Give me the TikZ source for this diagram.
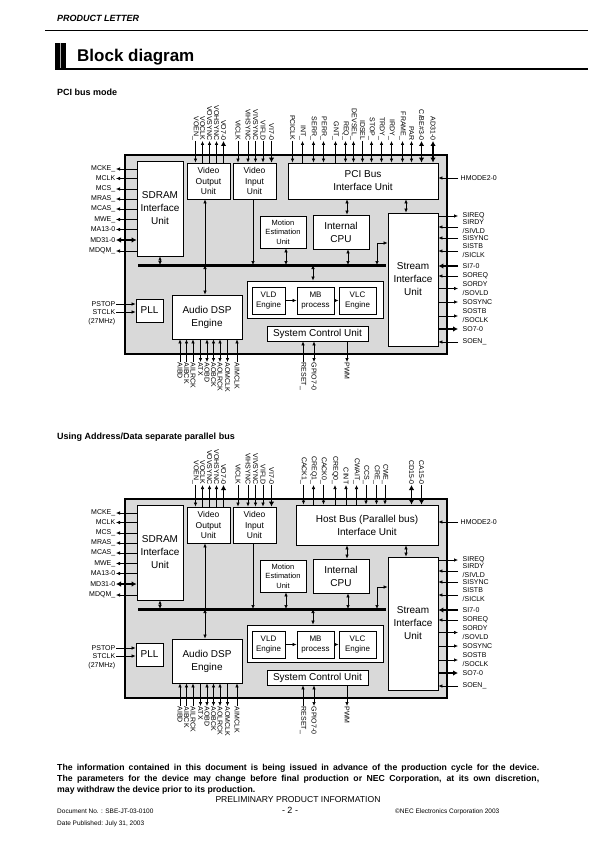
\documentclass[tikz,border=0pt]{standalone}
\usepackage{fontspec}
\setmainfont{Liberation Sans}
\usetikzlibrary{arrows.meta}
\definecolor{panel}{gray}{0.85}

\tikzset{
  unit/.style={draw, line width=0.8pt, fill=white, inner sep=0pt, align=center, font=\fontsize{10}{13}\selectfont},
  smallunit/.style={unit, font=\fontsize{8.5}{10.5}\selectfont},
  midunit/.style={unit, font=\fontsize{8}{10}\selectfont},
  tinyunit/.style={unit, font=\fontsize{7.5}{9.5}\selectfont},
  toplab/.style={rotate=-90, anchor=east, inner sep=0.5pt, font=\fontsize{7}{8}\selectfont},
  botlab/.style={rotate=-90, anchor=west, inner sep=0.5pt, font=\fontsize{7}{8}\selectfont},
  leftlab/.style={anchor=east, inner sep=0.5pt, font=\fontsize{7}{8}\selectfont},
  rightlab/.style={anchor=west, inner sep=0.5pt, align=left, font=\fontsize{7}{9}\selectfont},
  sigin/.style={line width=0.7pt, arrows={-Latex[length=4pt,width=3.6pt]}},
  sigout/.style={line width=0.7pt, arrows={Latex[length=4pt,width=3.6pt]-}},
  sigio/.style={line width=0.7pt, arrows={Latex[length=4pt,width=3.6pt]-Latex[length=4pt,width=3.6pt]}},
  busin/.style={line width=1.8pt, arrows={-Latex[length=5pt,width=5.5pt]}},
  busout/.style={line width=1.8pt, arrows={Latex[length=5pt,width=5.5pt]-}},
  busio/.style={line width=1.8pt, arrows={Latex[length=5pt,width=5.5pt]-Latex[length=5pt,width=5.5pt]}},
}

% pin label + wire:  name, position, text, wire style, unit
\newcommand{\topsig}[5]{%
  \node[toplab] (#1) at (#2,141) {#3};
  \draw[#4] (#1.east) -- (#1.east |- #5.north);}
\newcommand{\botsig}[5]{%
  \node[botlab] (#1) at (#2,362) {#3};
  \draw[#4] (#1.west) -- (#1.west |- #5.south);}
\newcommand{\leftsig}[5]{%
  \node[leftlab] (#1) at (116,#2) {#3};
  \draw[#4] (#1.east) -- (#5.west |- #1.east);}
\newcommand{\rightsig}[5]{%
  \node[rightlab] (#1) at (462,#2) {#3};
  \draw[#4] ([xshift=-4pt]#1.west) -- (#5.east |- #1.west);}

% everything both pictures share
\newcommand{\blockdiagram}[1]{%
  \draw[line width=2pt, fill=panel] (125,155) rectangle (447,354);
  \node[unit, minimum width=46pt, minimum height=95pt] (#1sdram) at (160,208.5) {SDRAM\\Interface\\Unit};
  \node[smallunit, minimum width=43pt, minimum height=36pt] (#1vout) at (208.5,181) {Video\\Output\\Unit};
  \node[smallunit, minimum width=43pt, minimum height=36pt] (#1vin) at (254.5,181) {Video\\Input\\Unit};
  \node[tinyunit, minimum width=46pt, minimum height=32pt] (#1me) at (283,232) {Motion\\Estimation\\Unit};
  \node[unit, minimum width=56pt, minimum height=34pt] (#1cpu) at (341,232) {Internal\\CPU};
  \node[unit, minimum width=50pt, minimum height=133pt] (#1stream) at (413,279.5) {Stream\\Interface\\Unit};
  \node[unit, minimum width=27pt, minimum height=23pt] (#1pll) at (149.5,310.5) {PLL};
  \node[unit, minimum width=70pt, minimum height=44pt] (#1audio) at (207,317) {Audio DSP\\Engine};
  \node[unit, minimum width=136pt, minimum height=37pt] (#1codec) at (315,299.5) {};
  \node[midunit, minimum width=33pt, minimum height=27pt] (#1vld) at (268.5,300.5) {VLD\\Engine};
  \node[midunit, minimum width=37pt, minimum height=27pt] (#1mb) at (315.5,300.5) {MB\\process};
  \node[midunit, minimum width=37pt, minimum height=27pt] (#1vlc) at (357.5,300.5) {VLC\\Engine};
  \node[unit, minimum width=101pt, minimum height=15pt] (#1scu) at (317.5,333.5) {System Control Unit};
  \coordinate (#1busl) at (138,265);
  \coordinate (#1busr) at (386,265);
  \coordinate (#1slink) at (377,243);
  \draw[sigio] (#1sdram.south) -- (#1sdram.south |- #1busl);
  \draw[sigin] ([xshift=-3.5pt]#1vout.south |- #1busl) -- ([xshift=-3.5pt]#1vout.south);
  \draw[sigin] ([xshift=-1.5pt]#1vin.south) -- ([xshift=-1.5pt]#1vin.south |- #1busl);
  \draw[sigio] ([xshift=3pt]#1me.south) -- ([xshift=3pt]#1me.south |- #1busl);
  \draw[sigio] ([xshift=7pt]#1cpu.south) -- ([xshift=7pt]#1cpu.south |- #1busl);
  \draw[sigio] ([xshift=-2pt]#1audio.north) -- ([xshift=-2pt]#1audio.north |- #1busl);
  \draw[sigio] ([xshift=-2pt]#1codec.north) -- ([xshift=-2pt]#1codec.north |- #1busl);
  \draw[sigio] (#1slink |- #1busl) |- (#1stream.west |- #1slink);
  \draw[sigin] (#1vld) -- (#1mb);
  \draw[sigin] (#1mb) -- (#1vlc);
  \draw[line width=3pt] (#1busl) -- (#1busr);
  \topsig{#1voen}{195.5}{VOEN\_}{sigin}{#1vout}
  \topsig{#1voclk}{202.5}{VOCLK}{sigout}{#1vout}
  \topsig{#1vovs}{209.5}{VOVSYNC}{sigout}{#1vout}
  \topsig{#1vohs}{216.5}{VOHSYNC}{sigout}{#1vout}
  \topsig{#1vod}{223.5}{VO7-0}{busout}{#1vout}
  \topsig{#1viclk}{238}{VICLK}{sigin}{#1vin}
  \topsig{#1vihs}{248}{VIHSYNC}{sigin}{#1vin}
  \topsig{#1vivs}{255.5}{VIVSYNC}{sigin}{#1vin}
  \topsig{#1vifld}{263}{VIFLD}{sigin}{#1vin}
  \topsig{#1vid}{271.5}{VI7-0}{busin}{#1vin}
  \leftsig{#1mcke}{169}{MCKE\_}{sigout}{#1sdram}
  \leftsig{#1mclk}{178.5}{MCLK}{sigout}{#1sdram}
  \leftsig{#1mcs}{189}{MCS\_}{sigout}{#1sdram}
  \leftsig{#1mras}{199}{MRAS\_}{sigout}{#1sdram}
  \leftsig{#1mcas}{209}{MCAS\_}{sigout}{#1sdram}
  \leftsig{#1mwe}{219.5}{MWE\_}{sigout}{#1sdram}
  \leftsig{#1ma}{229.5}{MA13-0}{sigout}{#1sdram}
  \leftsig{#1md}{240}{MD31-0}{busio}{#1sdram}
  \leftsig{#1mdqm}{251}{MDQM\_}{sigout}{#1sdram}
  \leftsig{#1pstop}{304}{PSTOP}{sigin}{#1pll}
  \leftsig{#1stclk}{312}{STCLK}{sigin}{#1pll}
  \node[leftlab] (#1xtal) at (116,322) {(27MHz)};
  \rightsig{#1sireq}{216}{SIREQ}{sigout}{#1stream}
  \rightsig{#1sirdy}{227}{SIRDY\\/SIVLD}{sigin}{#1stream}
  \rightsig{#1sisync}{238}{SISYNC}{sigin}{#1stream}
  \rightsig{#1sistb}{251}{SISTB\\/SICLK}{sigin}{#1stream}
  \rightsig{#1sid}{266}{SI7-0}{busin}{#1stream}
  \rightsig{#1soreq}{276}{SOREQ}{sigin}{#1stream}
  \rightsig{#1sordy}{288.5}{SORDY\\/SOVLD}{sigout}{#1stream}
  \rightsig{#1sosync}{302}{SOSYNC}{sigout}{#1stream}
  \rightsig{#1sostb}{316}{SOSTB\\/SOCLK}{sigout}{#1stream}
  \rightsig{#1sod}{329}{SO7-0}{busout}{#1stream}
  \rightsig{#1soen}{342}{SOEN\_}{sigin}{#1stream}
  \botsig{#1aibd}{180}{AIBD}{sigin}{#1audio}
  \botsig{#1aibck}{186.5}{AIBCK}{sigin}{#1audio}
  \botsig{#1ailrck}{193}{AILRCK}{sigin}{#1audio}
  \botsig{#1atx}{200.5}{ATX}{sigout}{#1audio}
  \botsig{#1aobd}{207}{AOBD}{sigio}{#1audio}
  \botsig{#1aobck}{213.5}{AOBCK}{sigio}{#1audio}
  \botsig{#1aolrck}{220}{AOLRCK}{sigio}{#1audio}
  \botsig{#1aomclk}{227.5}{AOMCLK}{sigout}{#1audio}
  \botsig{#1aimclk}{237}{AIMCLK}{sigin}{#1audio}
  \botsig{#1reset}{303}{RESET\_}{sigin}{#1scu}
  \botsig{#1gpio}{314}{GPIO7-0}{sigio}{#1scu}
  \botsig{#1pwm}{347}{PWM}{sigout}{#1scu}
}

% links of the host side unit (#1hif)
\newcommand{\hiflinks}[1]{%
  \draw[sigio] ([xshift=6pt]#1cpu.north) -- ([xshift=6pt]#1cpu.north |- #1hif.south);
  \draw[sigio] ([xshift=-7pt]#1stream.north) -- ([xshift=-7pt]#1stream.north |- #1hif.south);
  \node[rightlab] (#1hmode) at (460,178) {HMODE2-0};
  \draw[sigin] ([xshift=-2pt]#1hmode.west) -- (#1hif.east |- #1hmode.west);
}

\begin{document}
\begin{tikzpicture}[x=1pt, y=-1pt]
\useasboundingbox (0,0) rectangle (595,842);

\node[anchor=base west, inner sep=0, font=\fontsize{9}{10}\selectfont\bfseries\itshape] (letter) at (57,22) {PRODUCT LETTER};
\draw[line width=0.8pt] (45,30) -- (588,30);
\fill (55,43) rectangle (66,70);
\draw[gray!60, line width=0.9pt] (60.5,43) -- (60.5,69);
\node[anchor=base west, inner sep=0, font=\fontsize{17}{19}\selectfont\bfseries] (title) at (77,62) {Block diagram};
\draw[line width=2pt] (55,69.5) -- (588,69.5);

\node[anchor=base west, inner sep=0, font=\fontsize{9}{10}\selectfont\bfseries] (pcimode) at (57,95.5) {PCI bus mode};
\node[anchor=base west, inner sep=0, font=\fontsize{9}{10}\selectfont\bfseries] (sepmode) at (57,439.5) {Using Address/Data separate parallel bus};

% PCI bus mode
\begin{scope}
  \blockdiagram{a-}
  \node[unit, minimum width=150pt, minimum height=36pt] (a-hif) at (363,181) {PCI Bus\\Interface Unit};
  \hiflinks{a-}
  \topsig{a-pciclk}{292.5}{PCICLK}{sigin}{a-hif}
  \topsig{a-int}{302.5}{INT\_}{sigout}{a-hif}
  \topsig{a-serr}{313.5}{SERR\_}{sigio}{a-hif}
  \topsig{a-perr}{323.5}{PERR\_}{sigio}{a-hif}
  \topsig{a-gnt}{335.5}{GNT\_}{sigout}{a-hif}
  \topsig{a-req}{345.5}{REQ\_}{sigio}{a-hif}
  \topsig{a-devsel}{353.5}{DEVSEL\_}{sigio}{a-hif}
  \topsig{a-idsel}{362.5}{IDSEL}{sigin}{a-hif}
  \topsig{a-stop}{371.5}{STOP\_}{sigio}{a-hif}
  \topsig{a-trdy}{381.5}{TRDY\_}{sigio}{a-hif}
  \topsig{a-irdy}{391.5}{IRDY\_}{sigio}{a-hif}
  \topsig{a-frame}{402.5}{FRAME\_}{sigio}{a-hif}
  \topsig{a-par}{411.5}{PAR}{sigio}{a-hif}
  \topsig{a-cbe}{421.5}{C/BE\#3-0}{busio}{a-hif}
  \topsig{a-ad}{433}{AD31-0}{busio}{a-hif}
\end{scope}

% separate address/data bus
\begin{scope}[yshift=-344pt]
  \blockdiagram{b-}
  \node[unit, minimum width=142pt, minimum height=40pt] (b-hif) at (367,181) {Host Bus (Parallel bus)\\Interface Unit};
  \hiflinks{b-}
  \topsig{b-cack1}{303.5}{CACK1\_}{sigin}{b-hif}
  \topsig{b-creq1}{313.5}{CREQ1\_}{sigout}{b-hif}
  \topsig{b-cack0}{323.5}{CACK0\_}{sigin}{b-hif}
  \topsig{b-creq0}{335}{CREQ0\_}{sigout}{b-hif}
  \topsig{b-cint}{346}{CINT}{sigout}{b-hif}
  \topsig{b-cwait}{356.5}{CWAIT\_}{sigout}{b-hif}
  \topsig{b-ccs}{366}{CCS\_}{sigin}{b-hif}
  \topsig{b-cre}{376.5}{CRE\_}{sigin}{b-hif}
  \topsig{b-cwe}{385}{CWE\_}{sigin}{b-hif}
  \topsig{b-cd}{411.5}{CD15-0}{busio}{b-hif}
  \topsig{b-ca}{421.5}{CA15-0}{busin}{b-hif}
\end{scope}

\node[anchor=base west, inner sep=0, font=\fontsize{8.7}{10}\selectfont\bfseries] (note1) at (57,770) {\makebox[482pt][s]{The information contained in this document is being issued in advance of the production cycle for the device.}};
\node[anchor=base west, inner sep=0, font=\fontsize{8.7}{10}\selectfont\bfseries] (note2) at (57,781) {\makebox[482pt][s]{The parameters for the device may change before final production or NEC Corporation, at its own discretion,}};
\node[anchor=base west, inner sep=0, font=\fontsize{8.7}{10}\selectfont\bfseries] (note3) at (57,792) {may withdraw the device prior to its production.};
\node[anchor=base, inner sep=0, font=\fontsize{8.6}{10}\selectfont] (prelim) at (298,802) {PRELIMINARY PRODUCT INFORMATION};
\node[anchor=base west, inner sep=0, font=\fontsize{6.5}{8}\selectfont] (docno) at (57,813) {Document No. : SBE-JT-03-0100};
\node[anchor=base, inner sep=0, font=\fontsize{9}{10}\selectfont] (pageno) at (290,813) {- 2 -};
\node[anchor=base west, inner sep=0, font=\fontsize{6.5}{8}\selectfont] (copy) at (395,813) {©NEC Electronics Corporation 2003};
\node[anchor=base west, inner sep=0, font=\fontsize{6.5}{8}\selectfont] (date) at (57,825) {Date Published: July 31, 2003};
\end{tikzpicture}
\end{document}
